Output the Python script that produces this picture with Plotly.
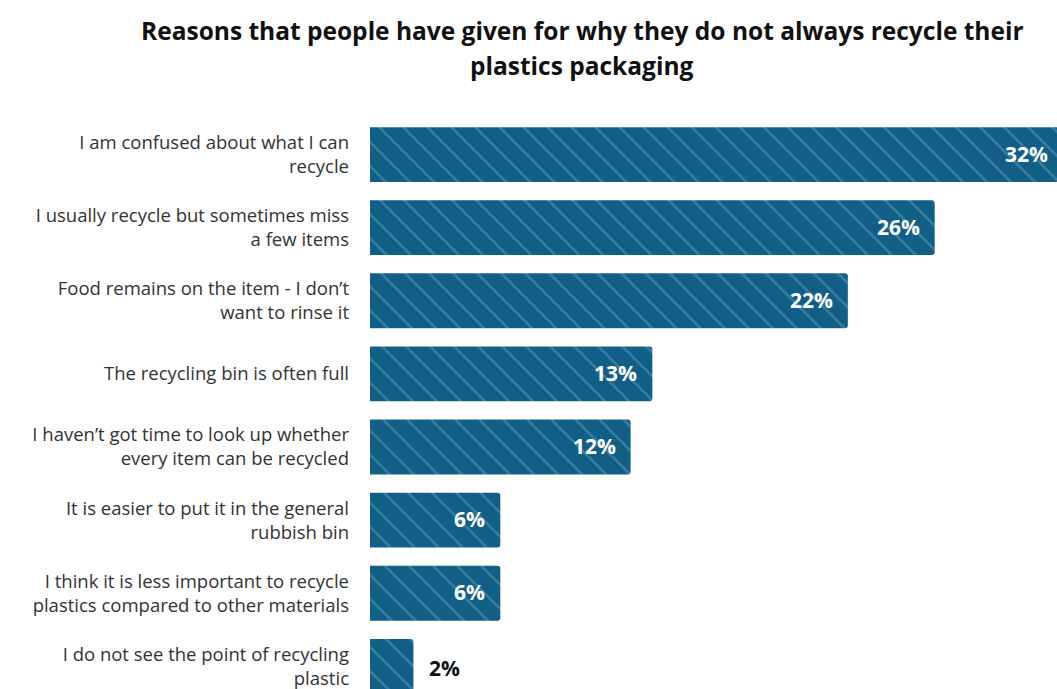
import plotly.graph_objects as go

# Survey answers, top to bottom
reasons = [
    "I am confused about what I can<br>recycle",
    "I usually recycle but sometimes miss<br>a few items",
    "Food remains on the item - I don\u2019t<br>want to rinse it",
    "The recycling bin is often full",
    "I haven\u2019t got time to look up whether<br>every item can be recycled",
    "It is easier to put it in the general<br>rubbish bin",
    "I think it is less important to recycle<br>plastics compared to other materials",
    "I do not see the point of recycling<br>plastic",
]
shares = [32, 26, 22, 13, 12, 6, 6, 2]
value_labels = ["32%", "26%", "22%", "13%", "12%", "6%", "6%", "2%"]

BAR = "#115f86"
STRIPE = "#5f9dc0"
W, H = 1057, 689
LEFT, TOP = 370, 118
XMAX = (W - LEFT) / 21.72

fig = go.Figure(
    go.Bar(
        x=shares,
        y=reasons,
        orientation="h",
        marker=dict(
            color=BAR,
            line=dict(width=0),
            pattern=dict(shape="\\", fillmode="overlay", fgcolor=STRIPE,
                         size=17, solidity=0.14),
        ),
        width=0.75,
        hoverinfo="skip",
    )
)

# Percentage labels: inside the bar end, except for the short bar
for r, v, lab in zip(reasons, shares, value_labels):
    inside = v >= 5
    clipped = v > XMAX
    fig.add_annotation(
        x=min(v, XMAX), y=r, xref="x", yref="y",
        text=f"<b>{lab}</b>",
        showarrow=False,
        xanchor="right" if inside else "left",
        xshift=(-7 if clipped else -13) if inside else 14,
        yshift=1 if inside else -2,
        font=dict(family="Open Sans", size=21,
                  color="white" if inside else "#111111"),
    )

# Two-line heading
plot_h = H - TOP
for txt, py in [("Reasons that people have given for why they do not always recycle their", 30),
                ("plastics packaging", 65)]:
    fig.add_annotation(
        x=(582 - LEFT) / (W - LEFT), y=(H - py) / plot_h,
        xref="paper", yref="paper",
        text=f"<b>{txt}</b>", showarrow=False,
        xanchor="center", yanchor="middle",
        font=dict(family="Open Sans", size=24.5, color="#111111"),
    )

fig.update_layout(
    width=W, height=H,
    margin=dict(l=LEFT, r=0, t=TOP, b=0, autoexpand=False),
    paper_bgcolor="white",
    plot_bgcolor="white",
    showlegend=False,
    barcornerradius=3,
    xaxis=dict(range=[0, XMAX], visible=False, fixedrange=True),
    yaxis=dict(
        range=[7.31, -0.5],
        showgrid=False, showline=False, zeroline=False,
        ticks="", ticklabelstandoff=20,
        tickfont=dict(family="Open Sans", size=18.5, color="#333333"),
    ),
)

fig.write_html("out.html")
